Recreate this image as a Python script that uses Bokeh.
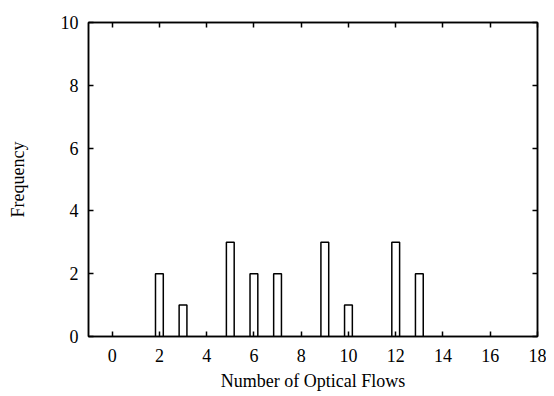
from bokeh.plotting import figure
from bokeh.models import LinearAxis, FixedTicker, Range1d
from bokeh.embed import file_html
from bokeh.resources import INLINE

flows = [2, 3, 5, 6, 7, 9, 10, 12, 13]
freq = [2, 1, 3, 2, 2, 3, 1, 3, 2]
x_ticks = [0, 2, 4, 6, 8, 10, 12, 14, 16, 18]
y_ticks = [0, 2, 4, 6, 8, 10]

FONT = "Liberation Serif"

p = figure(width=546, height=396, output_backend="svg", toolbar_location=None,
           x_range=Range1d(-1, 18), y_range=Range1d(0, 10),
           x_axis_label="Number of Optical Flows", y_axis_label="Frequency",
           min_border_left=88, min_border_right=9, min_border_top=22, min_border_bottom=60)
p.xgrid.visible = False
p.ygrid.visible = False
p.outline_line_color = "black"
p.outline_line_width = 1.5

p.vbar(x=flows, top=freq, bottom=0, width=0.33, fill_color="white",
       line_color="black", line_width=1.5)

for ax, ticks in ((p.xaxis[0], x_ticks), (p.yaxis[0], y_ticks)):
    ax.ticker = FixedTicker(ticks=ticks)
    ax.major_tick_in = 5
    ax.major_tick_out = 0
    ax.minor_tick_line_color = None
    ax.axis_line_width = 1.5
    ax.major_tick_line_width = 1.5
    ax.major_label_text_font = FONT
    ax.major_label_text_font_size = "18px"
    ax.major_label_text_color = "black"
    ax.axis_label_text_font = FONT
    ax.axis_label_text_font_size = "18px"
    ax.axis_label_text_font_style = "normal"
    ax.axis_label_text_color = "black"
    ax.major_label_standoff = 10

p.yaxis[0].axis_label_standoff = 30
p.xaxis[0].major_label_standoff = 12
p.xaxis[0].axis_label_standoff = 6

for loc, ticks in (("above", x_ticks), ("right", y_ticks)):
    a = LinearAxis(ticker=FixedTicker(ticks=ticks), major_tick_in=5, major_tick_out=0,
                   minor_tick_line_color=None,
                   major_label_overrides={t: "" for t in ticks},
                   major_label_standoff=0, axis_line_width=1.5, major_tick_line_width=1.5)
    p.add_layout(a, loc)

open("out.html", "w").write(file_html(p, INLINE))
